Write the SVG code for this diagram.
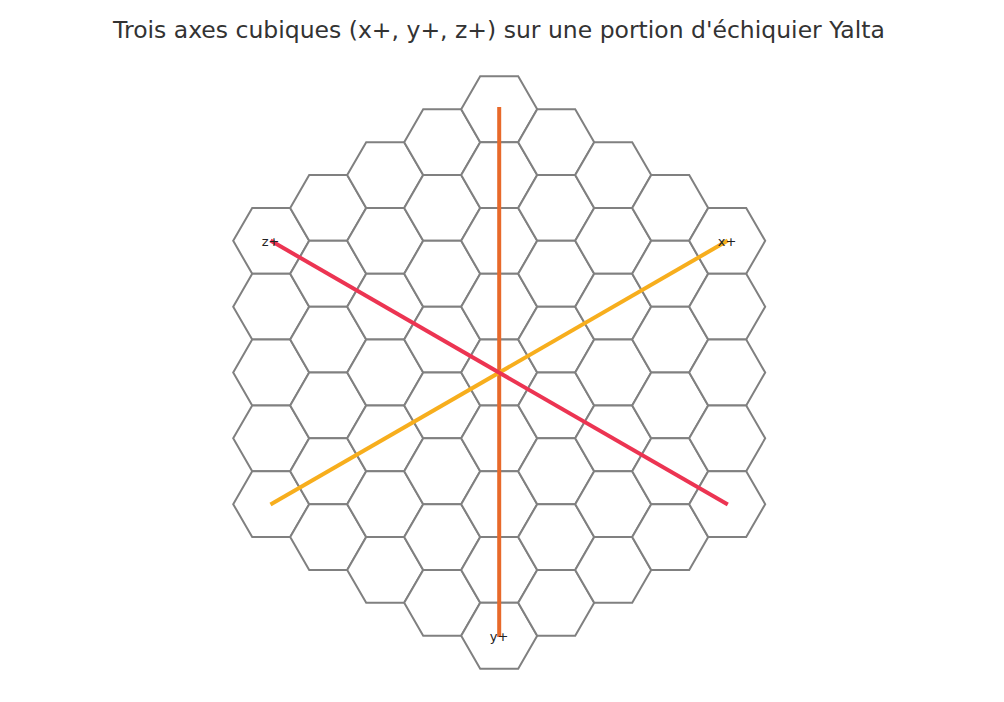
<svg xmlns="http://www.w3.org/2000/svg" xmlns:xlink="http://www.w3.org/1999/xlink" width="1004" height="702" viewBox="0 0 1004 702">
<style>
.hex{fill:#ffffff;stroke:#808080;stroke-width:2}
.axis{fill:none;stroke-width:4;stroke-linecap:butt}
.lbl{font-family:"DejaVu Sans",sans-serif;font-size:13px;fill:#222222;text-anchor:middle}
.title{font-family:"DejaVu Sans",sans-serif;font-size:23.5px;fill:#333333;text-anchor:middle}
</style>
<defs>
<path id="h" class="hex" d="M-38,0 L-19,-32.91 L19,-32.91 L38,0 L19,32.91 L-19,32.91 Z"/>
</defs>
<rect width="1004" height="702" fill="#ffffff"/>
<text class="title" x="499" y="38">Trois axes cubiques (x+, y+, z+) sur une portion d'échiquier Yalta</text>
<g id="board">
<g id="hex_m4_0"><use xlink:href="#h" x="271.2" y="240.86"/></g>
<g id="hex_m4_1"><use xlink:href="#h" x="271.2" y="306.68"/></g>
<g id="hex_m4_2"><use xlink:href="#h" x="271.2" y="372.5"/></g>
<g id="hex_m4_3"><use xlink:href="#h" x="271.2" y="438.32"/></g>
<g id="hex_m4_4"><use xlink:href="#h" x="271.2" y="504.14"/></g>
<g id="hex_m3_0"><use xlink:href="#h" x="328.2" y="207.95"/></g>
<g id="hex_m3_1"><use xlink:href="#h" x="328.2" y="273.77"/></g>
<g id="hex_m3_2"><use xlink:href="#h" x="328.2" y="339.59"/></g>
<g id="hex_m3_3"><use xlink:href="#h" x="328.2" y="405.41"/></g>
<g id="hex_m3_4"><use xlink:href="#h" x="328.2" y="471.23"/></g>
<g id="hex_m3_5"><use xlink:href="#h" x="328.2" y="537.05"/></g>
<g id="hex_m2_0"><use xlink:href="#h" x="385.2" y="175.04"/></g>
<g id="hex_m2_1"><use xlink:href="#h" x="385.2" y="240.86"/></g>
<g id="hex_m2_2"><use xlink:href="#h" x="385.2" y="306.68"/></g>
<g id="hex_m2_3"><use xlink:href="#h" x="385.2" y="372.5"/></g>
<g id="hex_m2_4"><use xlink:href="#h" x="385.2" y="438.32"/></g>
<g id="hex_m2_5"><use xlink:href="#h" x="385.2" y="504.14"/></g>
<g id="hex_m2_6"><use xlink:href="#h" x="385.2" y="569.96"/></g>
<g id="hex_m1_0"><use xlink:href="#h" x="442.2" y="142.13"/></g>
<g id="hex_m1_1"><use xlink:href="#h" x="442.2" y="207.95"/></g>
<g id="hex_m1_2"><use xlink:href="#h" x="442.2" y="273.77"/></g>
<g id="hex_m1_3"><use xlink:href="#h" x="442.2" y="339.59"/></g>
<g id="hex_m1_4"><use xlink:href="#h" x="442.2" y="405.41"/></g>
<g id="hex_m1_5"><use xlink:href="#h" x="442.2" y="471.23"/></g>
<g id="hex_m1_6"><use xlink:href="#h" x="442.2" y="537.05"/></g>
<g id="hex_m1_7"><use xlink:href="#h" x="442.2" y="602.87"/></g>
<g id="hex_0_0"><use xlink:href="#h" x="499.2" y="109.22"/></g>
<g id="hex_0_1"><use xlink:href="#h" x="499.2" y="175.04"/></g>
<g id="hex_0_2"><use xlink:href="#h" x="499.2" y="240.86"/></g>
<g id="hex_0_3"><use xlink:href="#h" x="499.2" y="306.68"/></g>
<g id="hex_0_4"><use xlink:href="#h" x="499.2" y="372.5"/></g>
<g id="hex_0_5"><use xlink:href="#h" x="499.2" y="438.32"/></g>
<g id="hex_0_6"><use xlink:href="#h" x="499.2" y="504.14"/></g>
<g id="hex_0_7"><use xlink:href="#h" x="499.2" y="569.96"/></g>
<g id="hex_0_8"><use xlink:href="#h" x="499.2" y="635.78"/></g>
<g id="hex_p1_0"><use xlink:href="#h" x="556.2" y="142.13"/></g>
<g id="hex_p1_1"><use xlink:href="#h" x="556.2" y="207.95"/></g>
<g id="hex_p1_2"><use xlink:href="#h" x="556.2" y="273.77"/></g>
<g id="hex_p1_3"><use xlink:href="#h" x="556.2" y="339.59"/></g>
<g id="hex_p1_4"><use xlink:href="#h" x="556.2" y="405.41"/></g>
<g id="hex_p1_5"><use xlink:href="#h" x="556.2" y="471.23"/></g>
<g id="hex_p1_6"><use xlink:href="#h" x="556.2" y="537.05"/></g>
<g id="hex_p1_7"><use xlink:href="#h" x="556.2" y="602.87"/></g>
<g id="hex_p2_0"><use xlink:href="#h" x="613.2" y="175.04"/></g>
<g id="hex_p2_1"><use xlink:href="#h" x="613.2" y="240.86"/></g>
<g id="hex_p2_2"><use xlink:href="#h" x="613.2" y="306.68"/></g>
<g id="hex_p2_3"><use xlink:href="#h" x="613.2" y="372.5"/></g>
<g id="hex_p2_4"><use xlink:href="#h" x="613.2" y="438.32"/></g>
<g id="hex_p2_5"><use xlink:href="#h" x="613.2" y="504.14"/></g>
<g id="hex_p2_6"><use xlink:href="#h" x="613.2" y="569.96"/></g>
<g id="hex_p3_0"><use xlink:href="#h" x="670.2" y="207.95"/></g>
<g id="hex_p3_1"><use xlink:href="#h" x="670.2" y="273.77"/></g>
<g id="hex_p3_2"><use xlink:href="#h" x="670.2" y="339.59"/></g>
<g id="hex_p3_3"><use xlink:href="#h" x="670.2" y="405.41"/></g>
<g id="hex_p3_4"><use xlink:href="#h" x="670.2" y="471.23"/></g>
<g id="hex_p3_5"><use xlink:href="#h" x="670.2" y="537.05"/></g>
<g id="hex_p4_0"><use xlink:href="#h" x="727.2" y="240.86"/></g>
<g id="hex_p4_1"><use xlink:href="#h" x="727.2" y="306.68"/></g>
<g id="hex_p4_2"><use xlink:href="#h" x="727.2" y="372.5"/></g>
<g id="hex_p4_3"><use xlink:href="#h" x="727.2" y="438.32"/></g>
<g id="hex_p4_4"><use xlink:href="#h" x="727.2" y="504.14"/></g>
</g>
<g id="connectors">
<line id="axis_y" class="axis" x1="499.2" y1="107" x2="499.2" y2="637" stroke="#E8692A"/>
<line id="axis_x" class="axis" x1="270.5" y1="504.6" x2="727.8" y2="240.6" stroke="#F7AE1D"/>
<line id="axis_z" class="axis" x1="270.5" y1="240.6" x2="727.8" y2="504.6" stroke="#EC3452"/>
</g>
<g id="labels">
<text class="lbl" x="270.5" y="245.7">z+</text>
<text class="lbl" x="727" y="245.7">x+</text>
<text class="lbl" x="499" y="640.6">y+</text>
</g>
</svg>
